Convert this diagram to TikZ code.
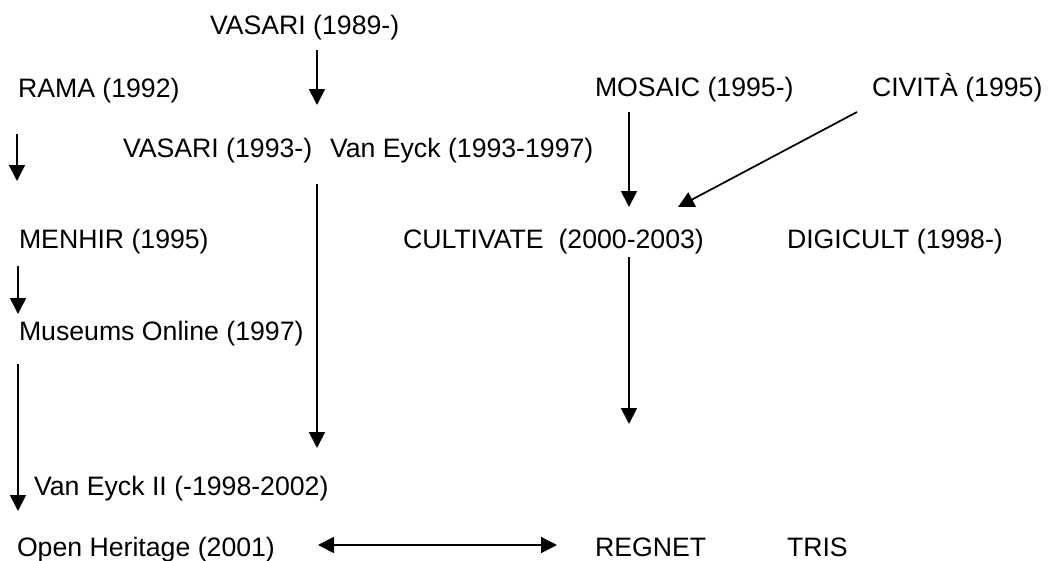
\documentclass[tikz,border=0pt]{standalone}
\usepackage{fontspec}
\setmainfont{Liberation Sans}
\usetikzlibrary{positioning,arrows.meta}

\begin{document}
\begin{tikzpicture}[
    x=0.75pt, y=-0.75pt,
    every node/.style={font=\fontsize{20}{24}\selectfont},
    proj/.style={anchor=base west, inner sep=0pt, outer sep=0pt},
    arrow/.style={-{Triangle[length=12pt, width=12pt]}, line width=1.3pt},
    twoway/.style={{Triangle[length=12pt, width=12pt]}-{Triangle[length=12pt, width=12pt]}, line width=1.3pt},
  ]
  \useasboundingbox (0,0) rectangle (1055,560);

  % Top row
  \node[proj] (vasariA) at (210,35) {VASARI (1989-)};
  \node[proj] (rama) at (18,98) {RAMA (1992)};
  \node[proj] (mosaic) at (595,96) {MOSAIC (1995-)};
  \node[proj] (civita) at (872,96) {CIVITÀ (1995)};
  \node[proj] (vasariB) at (123,157) {VASARI (1993-)};
  \node[proj] (vaneyck) at (330,157) {Van Eyck (1993-1997)};

  % Middle rows
  \node[proj] (menhir) at (19,248) {MENHIR (1995)};
  \node[proj] (cultivate) at (403,248) {CULTIVATE\ \ (2000-2003)};
  \node[proj] (digicult) at (787,248) {DIGICULT (1998-)};
  \node[proj] (museums) at (19,340) {Museums Online (1997)};
  \node[proj] (vaneyckII) at (34,495) {Van Eyck II (-1998-2002)};

  % Bottom row
  \node[proj] (heritage) at (17,556) {Open Heritage (2001)};
  \node[proj] (regnet) at (595,556) {REGNET};
  \node[proj] (tris) at (787,556) {TRIS};

  % Arrow ends
  \coordinate (vasariOut) at (317,50);
  \coordinate (vasariIn) at (317,105);
  \coordinate (ramaOut) at (17,134);
  \coordinate (menhirIn) at (17,181);
  \coordinate (menhirOut) at (18,266);
  \coordinate (museumsIn) at (18,314);
  \coordinate (museumsOut) at (18,364);
  \coordinate (heritageIn) at (18,511);
  \coordinate (vaneyckOut) at (317,184);
  \coordinate (vaneyckIIIn) at (317,448);
  \coordinate (mosaicOut) at (629,112);
  \coordinate (mosaicIn) at (629,207);
  \coordinate (civitaOut) at (857,112);
  \coordinate (civitaIn) at (678,207);
  \coordinate (cultivateOut) at (629,257);
  \coordinate (cultivateEnd) at (629,424);
  \coordinate (heritageEast) at (318,545);
  \coordinate (regnetWest) at (557,545);

  % Arrows
  \draw[arrow] (vasariOut) -- (vasariIn);
  \draw[arrow] (ramaOut) -- (menhirIn);
  \draw[arrow] (menhirOut) -- (museumsIn);
  \draw[arrow] (museumsOut) -- (heritageIn);
  \draw[arrow] (vaneyckOut) -- (vaneyckIIIn);
  \draw[arrow] (mosaicOut) -- (mosaicIn);
  \draw[arrow] (civitaOut) -- (civitaIn);
  \draw[arrow] (cultivateOut) -- (cultivateEnd);
  \draw[twoway] (heritageEast) -- (regnetWest);
\end{tikzpicture}
\end{document}
